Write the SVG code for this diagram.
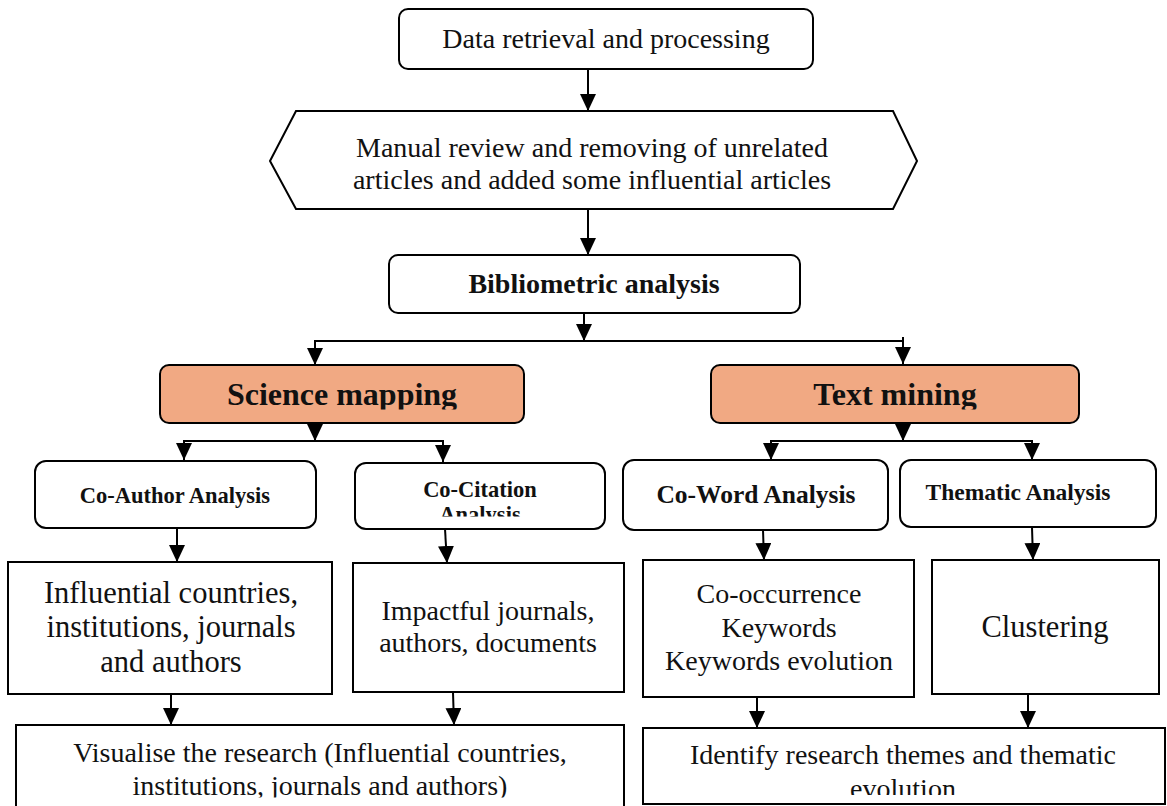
<svg xmlns="http://www.w3.org/2000/svg" width="1167" height="806" viewBox="0 0 1167 806">
  <defs>
    <marker id="arrow" markerUnits="userSpaceOnUse" markerWidth="17" markerHeight="16" refX="17" refY="8" orient="auto">
      <path d="M0,0 L17,8 L0,16 Z" fill="#000"/>
    </marker>
    <clipPath id="clip-sci"><rect x="160" y="365" width="364" height="44.5"/></clipPath>
    <clipPath id="clip-txt"><rect x="711" y="365" width="368" height="44.5"/></clipPath>
    <clipPath id="clip-cocit"><rect x="355" y="463" width="250" height="53.5"/></clipPath>
    <clipPath id="clip-vis"><rect x="16" y="725" width="608" height="72.5"/></clipPath>
    <clipPath id="clip-ident"><rect x="643" y="728" width="522" height="67"/></clipPath>
  </defs>
  <style>
    .box { fill: #fff; stroke: #000; stroke-width: 2; }
    .hl { fill: #F1A983; stroke: #000; stroke-width: 2; }
    .t { font-family: "Liberation Serif", "Times New Roman", serif; fill: #111; text-anchor: middle; }
    .b { font-weight: bold; }
    .conn { fill: none; stroke: #000; stroke-width: 2; }
    .arr { marker-end: url(#arrow); }
  </style>

  <!-- connectors -->
  <g id="connectors">
    <path class="conn arr" d="M588,69 V111"/>
    <path class="conn arr" d="M588,210 V255"/>
    <path class="conn arr" d="M584,313 V341"/>
    <path class="conn" d="M315,341 H903"/>
    <path class="conn arr" d="M315,340 V365"/>
    <path class="conn arr" d="M903,337 V364"/>
    <path class="conn arr" d="M315,423 V441"/>
    <path class="conn" d="M183,441 H443"/>
    <path class="conn arr" d="M184,440 V460"/>
    <path class="conn arr" d="M443,440 V462"/>
    <path class="conn arr" d="M903,423 V441"/>
    <path class="conn" d="M771,441 H1032"/>
    <path class="conn arr" d="M771,440 V460"/>
    <path class="conn arr" d="M1032,440 V460"/>
    <path class="conn arr" d="M177,528 V562"/>
    <path class="conn arr" d="M445,529 L447,563"/>
    <path class="conn arr" d="M763,530 L764,560"/>
    <path class="conn arr" d="M1032,527 L1033,560"/>
    <path class="conn arr" d="M171,694 V725"/>
    <path class="conn arr" d="M453,692 L454,725"/>
    <path class="conn arr" d="M757,697 V728"/>
    <path class="conn arr" d="M1028,694 V728"/>
  </g>

  <g id="data-retrieval">
    <rect class="box" x="399" y="9" width="414" height="60" rx="9"/>
    <text class="t" x="606" y="48" font-size="28">Data retrieval and processing</text>
  </g>

  <g id="manual-review">
    <polygon class="box" points="270,161 296,111 893,111 917,161 893,209 296,209"/>
    <text class="t" x="592" y="157" font-size="28">Manual review and removing of unrelated</text>
    <text class="t" x="592" y="189" font-size="28">articles and added some influential articles</text>
  </g>

  <g id="bibliometric">
    <rect class="box" x="389" y="255" width="411" height="58" rx="9"/>
    <text class="t b" x="594" y="293" font-size="28">Bibliometric analysis</text>
  </g>

  <g id="science-mapping">
    <rect class="hl" x="160" y="365" width="364" height="58" rx="9"/>
    <text class="t b" x="342" y="405" font-size="32" clip-path="url(#clip-sci)">Science mapping</text>
  </g>

  <g id="text-mining">
    <rect class="hl" x="711" y="365" width="368" height="58" rx="9"/>
    <text class="t b" x="895" y="405" font-size="32" clip-path="url(#clip-txt)">Text mining</text>
  </g>

  <g id="co-author">
    <rect class="box" x="35" y="461" width="281" height="67" rx="11"/>
    <text class="t b" x="175" y="503" font-size="22.5">Co-Author Analysis</text>
  </g>

  <g id="co-citation">
    <rect class="box" x="355" y="463" width="250" height="66" rx="11"/>
    <g clip-path="url(#clip-cocit)">
      <text class="t b" x="480" y="497" font-size="22.5">Co-Citation</text>
      <text class="t b" x="480" y="522" font-size="22.5">Analysis</text>
    </g>
  </g>

  <g id="co-word">
    <rect class="box" x="623" y="460" width="265" height="70" rx="11"/>
    <text class="t b" x="756" y="503" font-size="25.5">Co-Word Analysis</text>
  </g>

  <g id="thematic">
    <rect class="box" x="900" y="460" width="256" height="67" rx="11"/>
    <text class="t b" x="1018" y="500" font-size="23.5">Thematic Analysis</text>
  </g>

  <g id="influential">
    <rect class="box" x="8" y="562" width="324" height="132"/>
    <text class="t" x="171" y="603" font-size="30.5">Influential countries,</text>
    <text class="t" x="171" y="637" font-size="30.5">institutions, journals</text>
    <text class="t" x="171" y="672" font-size="30.5">and authors</text>
  </g>

  <g id="impactful">
    <rect class="box" x="353" y="563" width="271" height="129"/>
    <text class="t" x="488" y="620" font-size="28">Impactful journals,</text>
    <text class="t" x="488" y="652" font-size="28">authors, documents</text>
  </g>

  <g id="co-occurrence">
    <rect class="box" x="643" y="560" width="271" height="137"/>
    <text class="t" x="779" y="603" font-size="28">Co-occurrence</text>
    <text class="t" x="779" y="637" font-size="28">Keywords</text>
    <text class="t" x="779" y="670" font-size="28">Keywords evolution</text>
  </g>

  <g id="clustering">
    <rect class="box" x="932" y="560" width="227" height="134"/>
    <text class="t" x="1045" y="637" font-size="30.5">Clustering</text>
  </g>

  <g id="visualise">
    <rect class="box" x="16" y="725" width="608" height="100"/>
    <g clip-path="url(#clip-vis)">
      <text class="t" x="320" y="762" font-size="28">Visualise the research (Influential countries,</text>
      <text class="t" x="320" y="795" font-size="28">institutions, journals and authors)</text>
    </g>
  </g>

  <g id="identify">
    <rect class="box" x="643" y="728" width="522" height="76"/>
    <g clip-path="url(#clip-ident)">
      <text class="t" x="903" y="764" font-size="28">Identify research themes and thematic</text>
      <text class="t" x="903" y="798" font-size="28">evolution</text>
    </g>
  </g>
</svg>
